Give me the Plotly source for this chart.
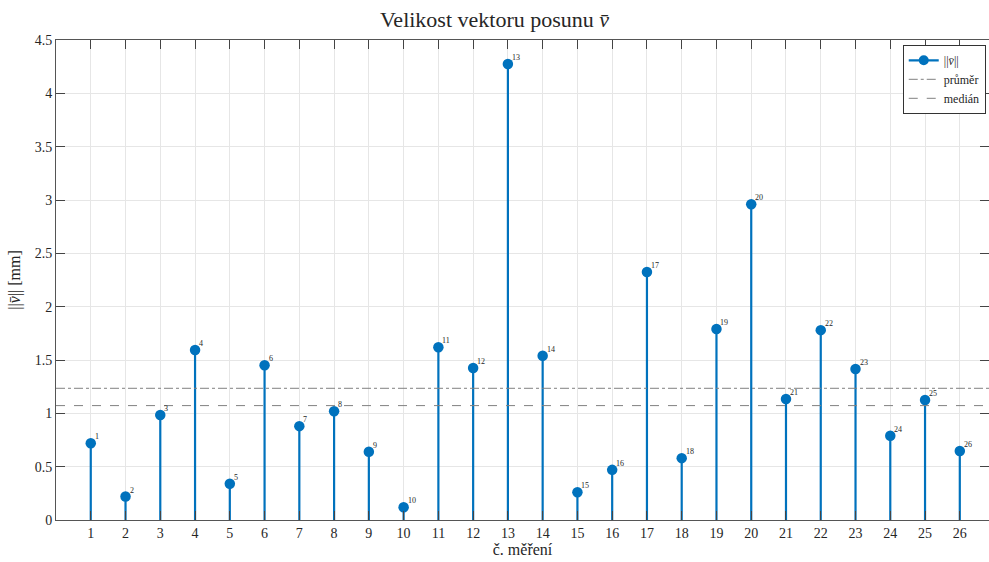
import plotly.graph_objects as go
import numpy as np

# measurement numbers and displacement magnitudes [mm]
mereni = list(range(1, 27))
velikost = [0.72, 0.22, 0.985, 1.594, 0.34, 1.45, 0.88, 1.02, 0.64, 0.12,
            1.62, 1.425, 4.275, 1.54, 0.26, 0.47, 2.325, 0.58, 1.79, 2.96,
            1.134, 1.78, 1.415, 0.79, 1.125, 0.647]

prumer = float(np.mean(velikost))
median = float(np.median(velikost))

x_ticks = mereni
y_ticks = [0, 0.5, 1, 1.5, 2, 2.5, 3, 3.5, 4, 4.5]
y_tick_text = ["0", "0.5", "1", "1.5", "2", "2.5", "3", "3.5", "4", "4.5"]

BLUE = "#0072BD"
FONT = "Liberation Serif, DejaVu Serif, serif"
VBAR = "<i>v\u0304</i>"

# stems from the baseline to each value
sx, sy = [], []
for m, v in zip(mereni, velikost):
    sx += [m, m, None]
    sy += [0, v, None]

fig = go.Figure()

fig.add_trace(go.Scatter(
    x=sx, y=sy, mode="lines", line=dict(color=BLUE, width=2.2),
    showlegend=False, hoverinfo="skip"))

fig.add_trace(go.Scatter(
    x=mereni, y=velikost, mode="markers",
    marker=dict(color=BLUE, size=10.5),
    showlegend=False))

# small index label next to each point
for m, v in zip(mereni, velikost):
    fig.add_annotation(x=m, y=v, text=str(m), showarrow=False,
                       xanchor="left", yanchor="bottom", xshift=2, yshift=0,
                       font=dict(family=FONT, size=8, color="#262626"))

# legend entry for the stem series
fig.add_trace(go.Scatter(
    x=[None], y=[None], mode="lines+markers", name="||" + VBAR + "||",
    line=dict(color=BLUE, width=2.2), marker=dict(color=BLUE, size=10)))

fig.add_trace(go.Scatter(
    x=[0, 27], y=[prumer, prumer], mode="lines", name="průměr",
    line=dict(color="#808080", width=1, dash="dashdot")))

fig.add_trace(go.Scatter(
    x=[0, 27], y=[median, median], mode="lines", name="medián",
    line=dict(color="#808080", width=1, dash="dash")))

axis_common = dict(
    showgrid=True, gridcolor="#e6e6e6", gridwidth=1,
    ticks="inside", ticklen=9, tickcolor="#444444", tickwidth=1,
    showline=True, linecolor="#555555", linewidth=1, mirror="ticks",
    zeroline=False,
    tickfont=dict(family=FONT, size=14, color="#262626"),
)

fig.update_layout(
    width=989, height=562,
    margin=dict(l=56, r=0, t=40, b=42),
    paper_bgcolor="white", plot_bgcolor="white",
    font=dict(family=FONT, color="#262626"),
    title=dict(text="Velikost vektoru posunu " + VBAR, x=0.5, xanchor="center",
               y=0.965, yanchor="middle",
               font=dict(family=FONT, size=22, color="#262626")),
    xaxis=dict(range=[0, 26.84], tickmode="array", tickvals=x_ticks,
               ticktext=[str(t) for t in x_ticks],
               title=dict(text="č. měření", standoff=4,
                          font=dict(family=FONT, size=16)),
               **axis_common),
    yaxis=dict(range=[0, 4.5], tickmode="array", tickvals=y_ticks,
               ticktext=y_tick_text,
               title=dict(text="||" + VBAR + "|| [mm]", standoff=10,
                          font=dict(family=FONT, size=16)),
               **axis_common),
    legend=dict(x=0.9965, y=0.99, xanchor="right", yanchor="top",
                bgcolor="white", bordercolor="#333333", borderwidth=1,
                font=dict(family=FONT, size=12, color="#262626"),
                tracegroupgap=0, itemwidth=30),
)

fig.write_html("out.html")
